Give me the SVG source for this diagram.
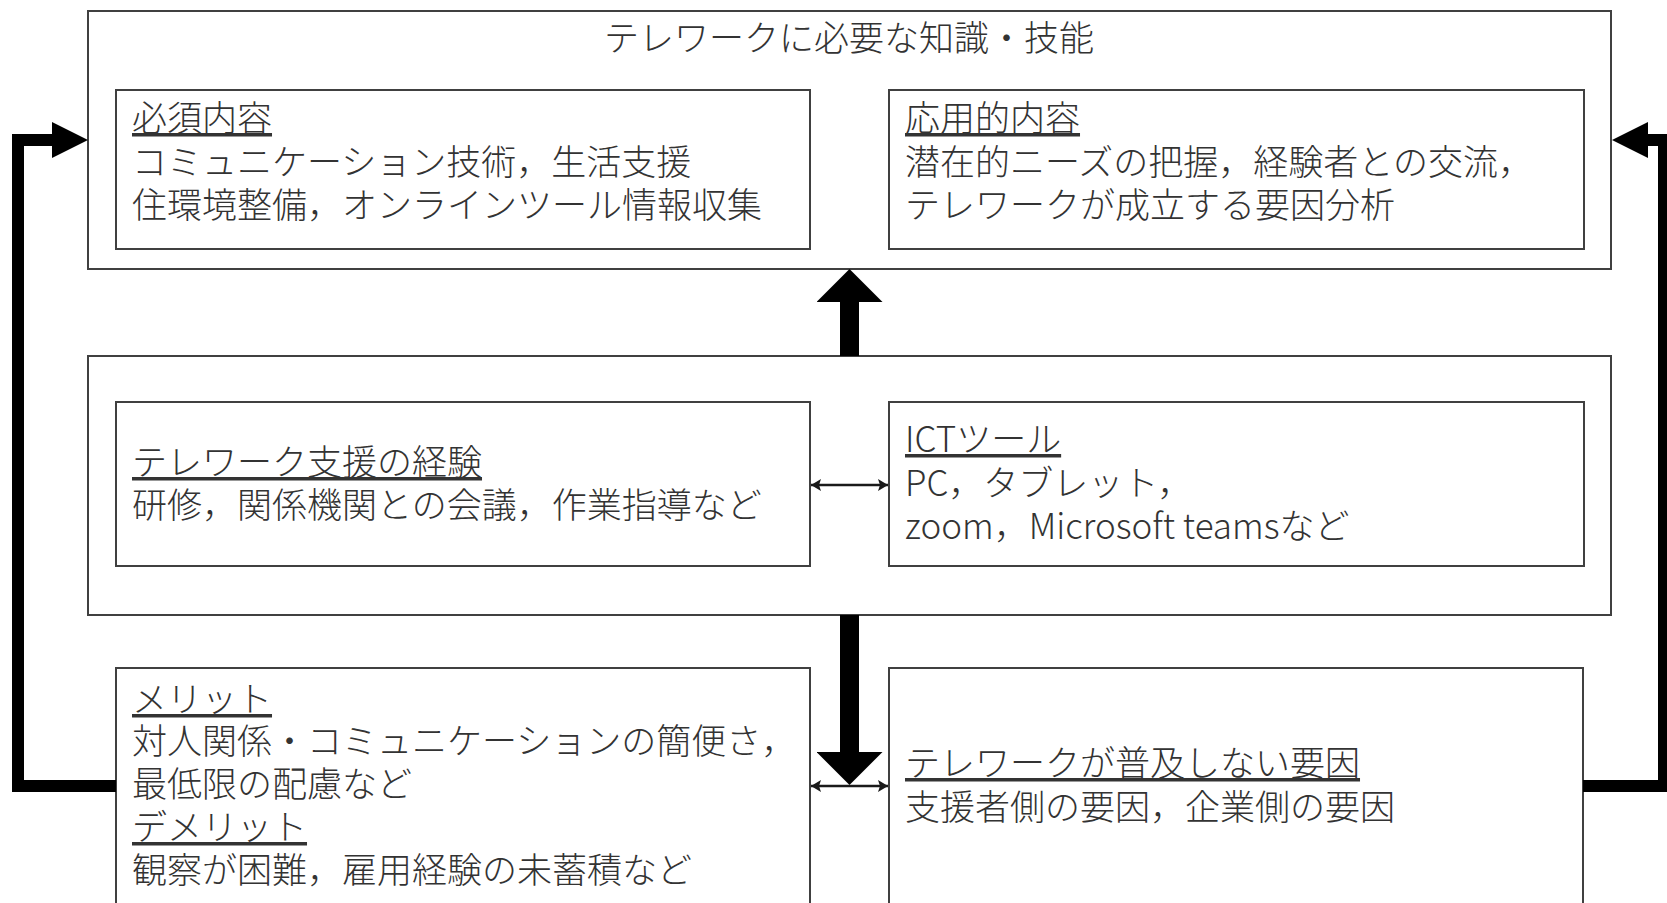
<svg xmlns="http://www.w3.org/2000/svg" width="1667" height="903" viewBox="0 0 1667 903">
<style>
  .box { fill: #ffffff; stroke: #404040; stroke-width: 2; }
  .t { font-family: "Noto Sans CJK JP", "Noto Sans CJK SC", sans-serif; font-size: 35px; font-weight: 300; fill: #333333; }
  .u { text-decoration: underline; }
  .ttl { text-anchor: middle; }
  .fb { fill: none; stroke: #000000; stroke-width: 12; stroke-linejoin: miter; }
  .blk { fill: none; stroke: #000000; stroke-width: 19; }
  .thin { fill: none; stroke: #1a1a1a; stroke-width: 2.5; }
</style>
<defs>
  <marker id="fbHead" markerUnits="userSpaceOnUse" markerWidth="36" markerHeight="36" viewBox="0 0 36 36" refX="0" refY="18" orient="auto">
    <path d="M0,0 L36,18 L0,36 z" fill="#000000"/>
  </marker>
  <marker id="blkHead" markerUnits="userSpaceOnUse" markerWidth="33" markerHeight="66" viewBox="0 0 33 66" refX="0" refY="33" orient="auto">
    <path d="M0,0 L33,33 L0,66 z" fill="#000000"/>
  </marker>
  <marker id="smHead" markerUnits="userSpaceOnUse" markerWidth="10" markerHeight="12" viewBox="0 0 10 12" refX="10" refY="6" orient="auto-start-reverse">
    <path d="M0,0 L10,6 L0,12 L2,6 z" fill="#1a1a1a"/>
  </marker>
</defs>

<g id="knowledge">
  <rect class="box" x="88" y="11" width="1523" height="258"/>
  <text class="t ttl" x="849" y="51">テレワークに必要な知識・技能</text>
</g>
<g id="required">
  <rect class="box" x="116" y="90" width="694" height="159"/>
  <text class="t"><tspan class="u" x="132" y="131">必須内容</tspan><tspan x="132" y="175">コミュニケーション技術，生活支援</tspan><tspan x="132" y="218">住環境整備，オンラインツール情報収集</tspan></text>
</g>
<g id="applied">
  <rect class="box" x="889" y="90" width="695" height="159"/>
  <text class="t"><tspan class="u" x="905" y="131">応用的内容</tspan><tspan x="905" y="175">潜在的ニーズの把握，経験者との交流，</tspan><tspan x="905" y="218">テレワークが成立する要因分析</tspan></text>
</g>
<g id="middle">
  <rect class="box" x="88" y="356" width="1523" height="259"/>
</g>
<g id="experience">
  <rect class="box" x="116" y="402" width="694" height="164"/>
  <text class="t"><tspan class="u" x="132" y="475">テレワーク支援の経験</tspan><tspan x="132" y="518">研修，関係機関との会議，作業指導など</tspan></text>
</g>
<g id="ict">
  <rect class="box" x="889" y="402" width="695" height="164"/>
  <text class="t"><tspan class="u" x="905" y="452">ICTツール</tspan><tspan x="905" y="496">PC，タブレット，</tspan><tspan x="905" y="539">zoom，Microsoft teamsなど</tspan></text>
</g>
<g id="meritdemerit">
  <rect class="box" x="116" y="668" width="694" height="250"/>
  <text class="t"><tspan class="u" x="132" y="712">メリット</tspan><tspan x="132" y="754">対人関係・コミュニケーションの簡便さ，</tspan><tspan x="132" y="797">最低限の配慮など</tspan><tspan class="u" x="132" y="840">デメリット</tspan><tspan x="132" y="883">観察が困難，雇用経験の未蓄積など</tspan></text>
</g>
<g id="factors">
  <rect class="box" x="889" y="668" width="694" height="250"/>
  <text class="t"><tspan class="u" x="905" y="776">テレワークが普及しない要因</tspan><tspan x="905" y="820">支援者側の要因，企業側の要因</tspan></text>
</g>

<g id="connectors">
  <path class="blk" d="M849.5,356 L849.5,302" marker-end="url(#blkHead)"/>
  <path class="blk" d="M849.5,615 L849.5,752" marker-end="url(#blkHead)"/>
  <path class="thin" d="M811,485 L888,485" marker-start="url(#smHead)" marker-end="url(#smHead)"/>
  <path class="thin" d="M811,786 L888,786" marker-start="url(#smHead)" marker-end="url(#smHead)"/>
  <path class="fb" d="M116,786 L18,786 L18,140 L52,140" marker-end="url(#fbHead)"/>
  <path class="fb" d="M1583,786 L1664,786 L1664,140 L1648,140" marker-end="url(#fbHead)"/>
</g>
</svg>
